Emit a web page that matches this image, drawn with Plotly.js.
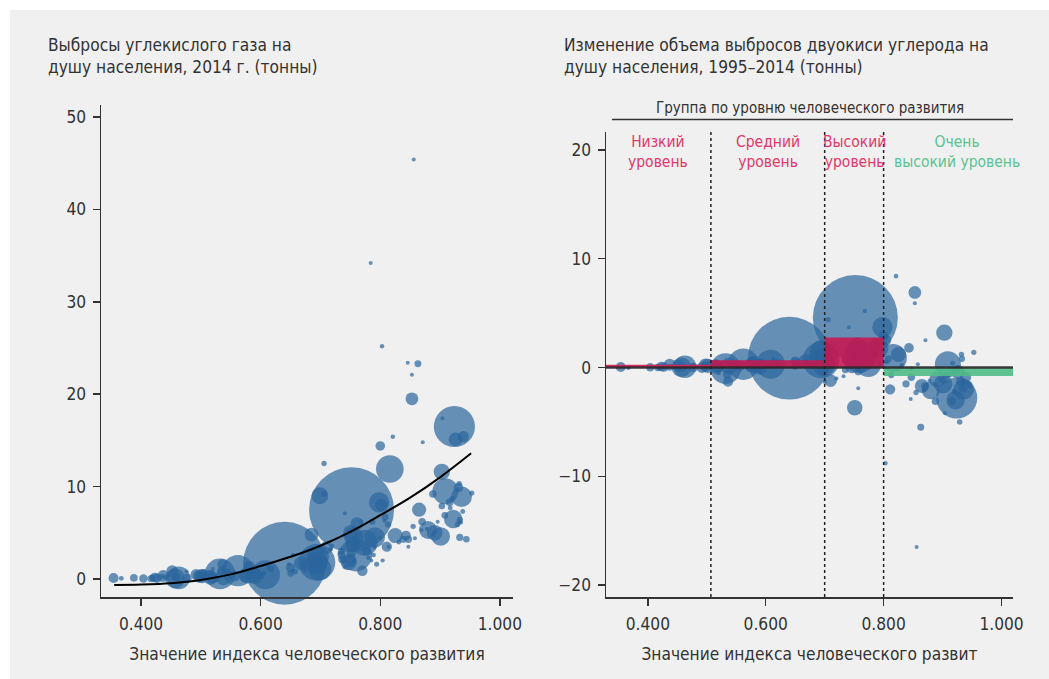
<!DOCTYPE html>
<html>
<head>
<meta charset="utf-8">
<script src="https://cdn.plot.ly/plotly-3.0.1.min.js"></script>
<style>html,body{margin:0;padding:0;background:#fff;}#chart{width:1049px;height:679px;}</style>
</head>
<body>
<div id="chart"></div>
<script>
// ---------- DATA ----------
const countries = ["Niger","CAR","South Sudan","Chad","Burundi","Sierra Leone","Burkina Faso","Mali","Liberia","Mozambique","Eritrea","Guinea-Bissau","DR Congo","Guinea","Gambia","Ethiopia","Yemen","Djibouti","Malawi","Côte d'Ivoire","Haiti","Afghanistan","Sudan","Togo","Senegal","Comoros","Benin","Uganda","Madagascar","Mauritania","Lesotho","Rwanda","Nigeria","Zimbabwe","Syria","Tanzania","Papua New Guinea","Solomon Islands","Cameroon","Pakistan","Nepal","Myanmar","Angola","Cambodia","Zambia","Eswatini","Kenya","Ghana","Sao Tome","Laos","Vanuatu","Congo","Bangladesh","Bhutan","Honduras","India","Namibia","Guatemala","Tajikistan","Cabo Verde","Guyana","Nicaragua","Morocco","Kyrgyzstan","El Salvador","Iraq","Bolivia","Indonesia","Vietnam","Egypt","Philippines","South Africa","Moldova","Gabon","Paraguay","Libya","Turkmenistan","Belize","Uzbekistan","Botswana","Maldives","Suriname","Jamaica","Tunisia","Jordan","Dominican Rep.","Fiji","Mongolia","Colombia","Peru","Ukraine","China","Ecuador","Algeria","Thailand","Armenia","North Macedonia","Azerbaijan","Lebanon","Brazil","Venezuela","Bosnia","Sri Lanka","Mexico","Cuba","Georgia","Trinidad and Tobago","Albania","Serbia","Panama","Mauritius","Turkey","Costa Rica","Iran","Kazakhstan","Barbados","Malaysia","Kuwait","Uruguay","Bahamas","Belarus","Romania","Bulgaria","Montenegro","Russia","Oman","Argentina","Croatia","Hungary","Chile","Bahrain","Portugal","Latvia","Saudi Arabia","Brunei","Slovakia","Qatar","Lithuania","UAE","Poland","Cyprus","Greece","Estonia","Malta","Italy","Czech Republic","Spain","Slovenia","France","Korea","Israel","Luxembourg","Japan","Austria","Belgium","New Zealand","Finland","United Kingdom","United States","Canada","Denmark","Netherlands","Singapore","Hong Kong","Sweden","Iceland","Germany","Ireland","Australia","Switzerland","Norway"];
const hdi = [0.354,0.367,0.388,0.404,0.417,0.419,0.423,0.427,0.435,0.437,0.440,0.455,0.457,0.459,0.460,0.463,0.452,0.476,0.477,0.492,0.498,0.498,0.502,0.503,0.505,0.503,0.515,0.516,0.519,0.520,0.520,0.524,0.532,0.535,0.536,0.538,0.544,0.546,0.556,0.562,0.574,0.578,0.581,0.582,0.588,0.588,0.590,0.592,0.589,0.601,0.603,0.606,0.608,0.612,0.617,0.640,0.647,0.650,0.650,0.654,0.654,0.658,0.667,0.672,0.674,0.685,0.693,0.694,0.694,0.696,0.699,0.699,0.700,0.702,0.702,0.706,0.706,0.708,0.710,0.717,0.717,0.720,0.732,0.735,0.735,0.736,0.741,0.741,0.747,0.750,0.751,0.752,0.752,0.754,0.755,0.755,0.757,0.757,0.757,0.759,0.761,0.768,0.770,0.774,0.777,0.780,0.784,0.785,0.787,0.789,0.790,0.791,0.794,0.798,0.800,0.800,0.802,0.803,0.804,0.807,0.808,0.811,0.813,0.814,0.816,0.821,0.825,0.831,0.838,0.843,0.846,0.847,0.847,0.853,0.853,0.855,0.856,0.858,0.863,0.865,0.869,0.870,0.871,0.878,0.880,0.888,0.891,0.896,0.901,0.903,0.903,0.904,0.909,0.908,0.916,0.917,0.920,0.922,0.924,0.926,0.929,0.931,0.932,0.933,0.933,0.935,0.936,0.938,0.939,0.944,0.953];
const co2PerCapita2014 = [0.11,0.07,0.13,0.05,0.04,0.14,0.16,0.08,0.3,0.31,0.2,0.16,0.06,0.2,0.25,0.12,0.86,0.8,0.07,0.5,0.27,0.3,0.3,0.36,0.6,0.2,0.6,0.13,0.13,0.7,1.1,0.07,0.55,0.9,1.6,0.22,0.8,0.4,0.32,0.9,0.3,0.4,1.3,0.44,0.29,0.9,0.31,0.54,0.6,0.3,0.6,0.6,0.46,1.3,1.1,1.7,1.6,1.2,0.6,0.9,2.6,0.8,1.7,1.6,1.0,4.8,1.9,1.8,1.8,2.4,1.1,9.0,1.4,2.8,0.9,9.2,12.5,1.4,3.4,3.2,3.3,3.6,2.8,2.6,3.0,2.1,1.3,7.1,1.8,2.0,5.0,7.5,2.8,3.7,4.6,1.9,3.6,3.9,4.3,2.6,6.0,6.2,0.9,3.9,3.0,2.3,34.2,2.0,6.2,2.6,3.4,4.5,1.6,8.3,14.4,4.5,8.0,25.2,2.0,6.3,6.7,3.5,5.9,3.5,11.9,15.4,4.7,4.0,4.3,4.7,23.4,4.3,3.5,19.5,22.1,5.7,45.4,4.4,23.3,7.5,5.3,6.2,14.8,5.4,5.3,9.2,5.0,6.2,4.6,11.6,7.9,17.4,9.5,6.9,8.3,7.7,8.7,6.5,16.5,15.1,5.9,9.9,10.3,6.4,4.5,6.1,8.9,7.3,15.4,4.3,9.3];
const co2Change1995to2014 = [0.05,0.0,null,0.03,0.0,0.06,0.09,0.04,0.1,0.25,0.1,0.0,0.02,0.03,0.05,0.07,0.16,0.2,0.0,0.0,0.15,0.23,0.15,0.16,0.2,0.07,0.4,0.08,0.04,-0.5,0.3,0.0,-0.1,-0.6,-1.3,0.14,0.3,0.0,0.17,0.3,0.2,0.23,0.5,0.34,0.04,0.3,0.08,0.29,0.3,0.2,0.2,0.2,0.3,0.8,0.5,0.86,0.7,0.6,0.1,0.6,0.7,0.2,0.6,0.5,0.2,1.0,0.8,0.7,1.5,0.8,0.3,0.6,-1.3,-0.5,0.2,0.7,4.4,-0.1,-1.2,0.9,2.1,-1.0,-0.8,0.8,-0.2,0.6,0.3,3.7,0.2,0.9,-3.7,4.6,1.1,0.5,1.9,0.8,-1.9,-0.4,0.0,1.0,0.1,5.2,0.6,0.3,0.7,1.8,null,1.3,1.2,1.2,2.1,1.8,0.4,3.7,2.9,1.5,2.5,-8.8,0.5,0.5,0.8,-2.0,-0.7,null,0.9,8.4,1.2,0.2,-1.5,1.8,-2.9,-0.9,-0.1,6.9,5.9,-2.3,-16.5,0.3,-5.5,-1.7,-2.1,-1.7,2.5,-1.2,-2.1,-3.1,-1.1,-1.1,-1.5,3.2,-1.2,-4.2,0.3,-0.7,-3.1,0.4,-2.2,-3.0,-2.8,-0.4,-5.0,-1.3,1.2,0.8,-1.9,-1.5,-2.0,-2.1,-0.9,-1.6,1.4];
const populationMillions = [19.1,4.5,11.2,13.6,10.5,7.1,17.6,16.9,4.4,27.2,4.8,1.8,74,12.3,1.9,97,26.2,0.9,16.7,22.6,10.6,32.7,38,7.2,14.5,0.77,10.3,37.8,23.6,4.0,2.1,11.3,177,15.4,19.2,51.8,7.8,0.58,22.8,185,28.2,52,26.9,15.3,15.6,1.3,46,26.8,0.19,6.7,0.26,4.5,159,0.74,8.9,1295,2.4,16,8.3,0.51,0.76,6.0,34,5.8,6.3,35,10.6,255,91,89,100,54,3.6,1.9,6.6,6.3,5.3,0.35,30.8,2.2,0.4,0.55,2.8,11.1,9.0,10.4,0.87,2.9,47.8,30.9,45.3,1364,15.9,39,68,2.9,2.1,9.5,5.6,204,30.7,3.5,20.8,125,11.4,3.7,1.35,2.9,7.1,3.9,1.26,77,4.8,78,17.3,0.28,30.2,3.8,3.4,0.38,9.5,19.9,7.2,0.62,144,4.0,42.7,4.2,9.9,17.8,1.36,10.4,2.0,30.9,0.41,5.4,2.2,2.9,9.1,38,1.15,10.9,1.3,0.43,60.8,10.5,46.5,2.06,66,50.4,8.2,0.55,127,8.5,11.2,4.5,5.5,64.6,319,35.5,5.6,16.9,5.5,7.2,9.7,0.33,81,4.6,23.5,8.2,5.1];

// trend line
const trendHdi = [0.355,0.40,0.45,0.50,0.55,0.60,0.65,0.70,0.75,0.80,0.85,0.90,0.952];
const trendCo2 = [-0.65,-0.6,-0.45,-0.1,0.5,1.4,2.4,3.6,5.1,6.9,8.8,11.0,13.6];

// HDI groups (right panel)
const groupNames = ["Низкий<br>уровень","Средний<br>уровень","Высокий<br>уровень","Очень<br>высокий уровень"];
const groupBounds = [0.329,0.507,0.70,0.80,1.0195];
const groupMeanChange = [0.25,0.67,2.75,-0.77];

const xTicks = [0.4,0.6,0.8,1.0];
const leftYTicks = [0,10,20,30,40,50];
const rightYTicks = [-20,-10,0,10,20];

// ---------- STYLE ----------
const W = 1049, H = 679;
const FONT = "'Liberation Sans Narrow', 'DejaVu Sans Condensed', 'Roboto Condensed', Roboto, sans-serif";
const TXT = '#333333';
const BUBBLE = 'rgb(43,101,157)';
const maxPop = Math.max(...populationMillions);
const sizeref = 2 * maxPop / (85 * 85);
const groupFill = ['rgba(214,36,88,0.95)','rgba(200,22,80,0.88)','rgba(200,22,80,0.88)','rgba(80,187,136,0.9)'];
const groupText = ['#e0386b','#e0386b','#e0386b','#5cc28f'];

const bubbleMarker = {size: populationMillions, sizemode:'area', sizeref: sizeref, sizemin: 2,
  color: BUBBLE, opacity: 0.7, line:{width:0}};

const traces = [
  {type:'scatter', mode:'markers', x:hdi, y:co2PerCapita2014, text:countries, marker:bubbleMarker,
   xaxis:'x', yaxis:'y', cliponaxis:false, hoverinfo:'text+x+y', showlegend:false},
  {type:'scatter', mode:'lines', x:trendHdi, y:trendCo2, line:{color:'#000', width:2, shape:'spline'},
   xaxis:'x', yaxis:'y', cliponaxis:false, hoverinfo:'skip', showlegend:false},
  {type:'scatter', mode:'markers', x:hdi, y:co2Change1995to2014, text:countries, marker:bubbleMarker,
   xaxis:'x2', yaxis:'y2', cliponaxis:false, hoverinfo:'text+x+y', showlegend:false}
];
// group mean rectangles (drawn after the bubbles so they sit on top)
groupMeanChange.forEach((m, i) => {
  const a = groupBounds[i], b = groupBounds[i+1];
  traces.push({type:'scatter', mode:'lines', x:[a,b,b,a,a], y:[0,0,m,m,0], fill:'toself',
    fillcolor: groupFill[i], line:{width:0}, xaxis:'x2', yaxis:'y2', hoverinfo:'skip', showlegend:false});
});

const TICKSIZE = 17.2;
const axisCommon = {showgrid:false, zeroline:false, showline:true, linecolor:'#333', linewidth:1.5,
  ticks:'outside', ticklen:7, tickwidth:1.5, tickcolor:'#333', tickfont:{family:FONT, size:TICKSIZE, color:TXT}};
const xAxisExtra = {ticklabelstandoff:4};
const yAxisExtra = {ticklabelstandoff:3};

const shapes = [
  {type:'rect', xref:'paper', yref:'paper', x0:10/W, x1:1, y0:0, y1:(H-10)/H, fillcolor:'#f0f0f0', line:{width:0}, layer:'below'},
  {type:'line', xref:'x2 domain', yref:'y2', x0:0, x1:1, y0:0, y1:0, line:{color:'rgba(40,40,40,0.9)', width:2.5}, layer:'above'},
  {type:'line', xref:'paper', yref:'paper', x0:612/W, x1:1013/W, y0:(H-119.5)/H, y1:(H-119.5)/H, line:{color:'#333', width:1.5}}
];
groupBounds.slice(1, 4).forEach(v => shapes.push({type:'line', xref:'x2', yref:'y2 domain', x0:v, x1:v, y0:0, y1:1,
  line:{color:'#222', width:1.5, dash:'dot'}, layer:'above'}));

const groupLabelX = [0.418, 0.6035, 0.75, 0.925];
const annotations = [
  {xref:'paper', yref:'paper', x:46/W, y:(H-55.5)/H, xanchor:'left', yanchor:'middle', align:'left', showarrow:false,
   text:'Выбросы углекислого газа на<br>душу населения, 2014 г. (тонны)', font:{family:FONT, size:17.2, color:TXT}},
  {xref:'paper', yref:'paper', x:562/W, y:(H-55.5)/H, xanchor:'left', yanchor:'middle', align:'left', showarrow:false,
   text:'Изменение объема выбросов двуокиси углерода на<br>душу населения, 1995–2014 (тонны)', font:{family:FONT, size:17.2, color:TXT}},
  {xref:'paper', yref:'paper', x:810/W, y:(H-108)/H, xanchor:'center', yanchor:'middle', showarrow:false,
   text:'Группа по уровню человеческого развития', font:{family:FONT, size:15, color:TXT}}
];
groupNames.forEach((t, i) => annotations.push({xref:'x2', yref:'paper', x:groupLabelX[i], y:(H-151.5)/H,
  xanchor:'center', yanchor:'middle', align:'center', showarrow:false, text:t,
  font:{family:FONT, size:15.5, color:groupText[i]}}));

const layout = {
  width:W, height:H, margin:{l:0,r:0,t:0,b:0}, paper_bgcolor:'#ffffff', plot_bgcolor:'rgba(0,0,0,0)',
  font:{family:FONT, color:TXT}, showlegend:false, hovermode:'closest',
  xaxis: Object.assign({}, axisCommon, xAxisExtra, {domain:[101/W, 513/W], range:[0.333, 1.022], tickvals:xTicks, tickformat:'.3f',
    title:{text:'Значение индекса человеческого развития', font:{family:FONT, size:17.2, color:TXT}, standoff:15}, anchor:'y'}),
  yaxis: Object.assign({}, axisCommon, yAxisExtra, {domain:[(H-597)/H, (H-105)/H], range:[-1.95, 51.3], tickvals:leftYTicks, anchor:'x'}),
  xaxis2: Object.assign({}, axisCommon, xAxisExtra, {domain:[606/W, 1013/W], range:[0.329, 1.0195], tickvals:xTicks, tickformat:'.3f',
    title:{text:'Значение индекса человеческого развит', font:{family:FONT, size:17.2, color:TXT}, standoff:15}, anchor:'y2'}),
  yaxis2: Object.assign({}, axisCommon, yAxisExtra, {domain:[(H-597)/H, (H-131.7)/H], range:[-21.1, 21.68], tickvals:rightYTicks, anchor:'x2'}),
  shapes: shapes, annotations: annotations
};

Plotly.newPlot('chart', traces, layout, {displayModeBar:false, staticPlot:true});
</script>
</body>
</html>
